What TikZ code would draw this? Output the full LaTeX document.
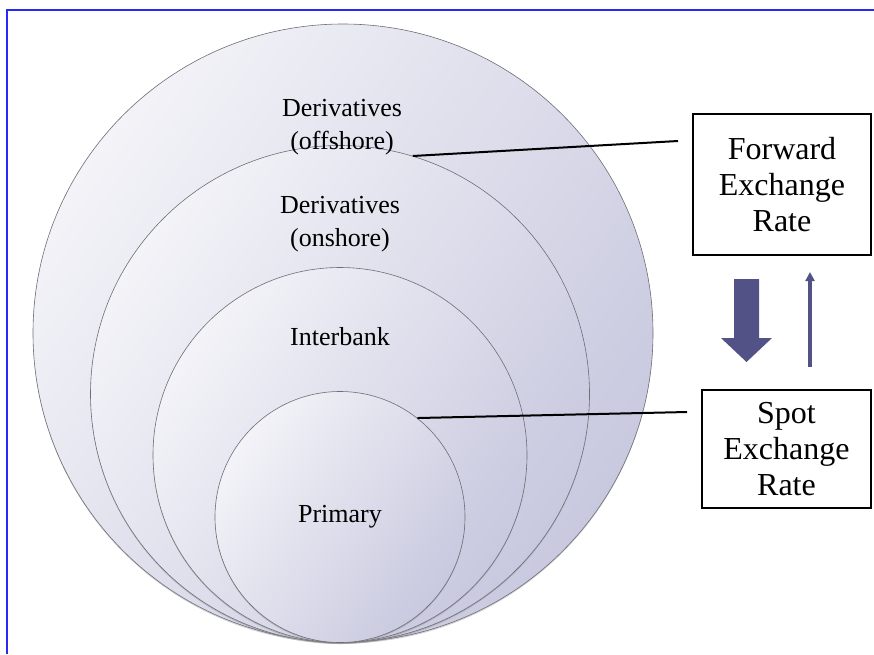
\documentclass[tikz,border=0pt]{standalone}
\usepackage{fontspec}
\setmainfont{Liberation Serif}
\usetikzlibrary{shapes.geometric,shadows,arrows.meta}
\definecolor{ring_top}{RGB}{243,243,248}
\definecolor{ring_bot}{RGB}{200,200,223}
\definecolor{ring_edge}{RGB}{110,110,118}
\definecolor{arr_blue}{RGB}{82,82,134}
\definecolor{frame_blue}{RGB}{40,40,250}
\tikzstyle{ring}=[ellipse,draw=ring_edge,line width=0.6pt,inner sep=0pt,
  top color=ring_top,bottom color=ring_bot,shading angle=55,
  drop shadow={shadow xshift=0pt,shadow yshift=-1.5pt,opacity=0.35}]
\tikzstyle{rate}=[rectangle,draw=black,line width=1.6pt,fill=white,
  align=center,font=\fontsize{32}{36}\selectfont]
\tikzstyle{lbl}=[align=center,font=\fontsize{26}{33}\selectfont]
\tikzstyle{link}=[draw=black,line width=2pt]

\begin{document}
\begin{tikzpicture}[x=1pt,y=-1pt]
        \useasboundingbox (0,0) rectangle (874,654);
        \draw[frame_blue, line width=2pt] (7,654) -- (7,10) -- (874,10);
        % nested markets
        \node[style=ring, minimum width=620pt, minimum height=618pt] (off) at (343,333) {};
        \node[style=ring, minimum width=499pt, minimum height=497pt] (on) at (340,394) {};
        \node[style=ring, minimum width=374pt, minimum height=375pt] (ib) at (340,455) {};
        \node[style=ring, minimum width=250pt, minimum height=251pt] (pr) at (340,517) {};
        \node[style=lbl] (offtxt) at (342,127) {Derivatives\\(offshore)};
        \node[style=lbl] (ontxt) at (340,224) {Derivatives\\(onshore)};
        \node[style=lbl] (ibtxt) at (340,337) {Interbank};
        \node[style=lbl] (prtxt) at (340,517) {Primary};
        % rates
        \node[style=rate, minimum width=178pt, minimum height=141pt] (fwd) at (782,184.5) {Forward\\Exchange\\Rate};
        \node[style=rate, minimum width=169pt, minimum height=118pt] (spot) at (786.5,449) {Spot\\Exchange\\Rate};
        \coordinate (fwdend) at (678,141);
        \coordinate (spotend) at (687,412);
        \draw[style=link] (on.73) to (fwdend);
        \draw[style=link] (pr.52) to (spotend);
        % arrows between rates
        \fill[arr_blue] (734,279) -- (759,279) -- (759,338) -- (772,338) -- (746.5,362) -- (721,338) -- (734,338) -- cycle;
        \coordinate (uptail) at (810,367);
        \coordinate (uphead) at (810,272);
        \draw[arr_blue, line width=3.5pt, -{Triangle[length=9pt,width=9pt]}] (uptail) to (uphead);
\end{tikzpicture}
\end{document}
